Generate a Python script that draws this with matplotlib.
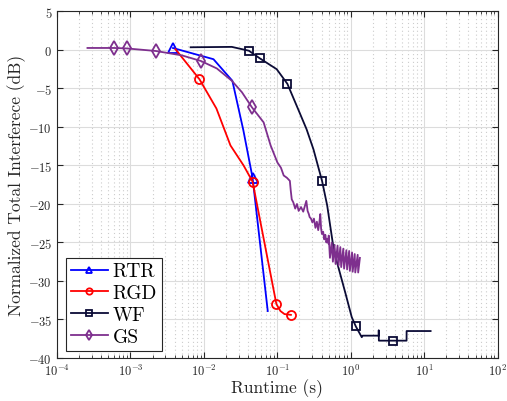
import numpy as np
import matplotlib.pyplot as plt
from matplotlib.ticker import LogLocator, NullFormatter, FixedLocator

plt.rcParams['font.family'] = 'serif'
plt.rcParams['font.serif'] = ['cmr10']
plt.rcParams['mathtext.fontset'] = 'cm'
plt.rcParams['axes.unicode_minus'] = False
plt.rcParams['axes.formatter.use_mathtext'] = True

# === DATA ===
rtr_t = [0.0038, 0.0135, 0.0244, 0.0344, 0.046, 0.074]
rtr_db = [0.25, -1.2, -4.0, -10.4, -16.6, -33.9]
rtr_mark = [0, 4]

rgd_t = [0.0041, 0.0087, 0.0148, 0.023, 0.0347, 0.046, 0.097, 0.11, 0.125, 0.153]
rgd_db = [0.1, -3.8, -7.6, -12.4, -15.0, -17.1, -33.0, -33.9, -34.3, -34.4]
rgd_mark = [1, 5, 6, 9]

wf_t = [0.0066, 0.024, 0.041, 0.0575, 0.098, 0.137, 0.192, 0.25, 0.31, 0.407,
        0.477, 0.575, 0.65, 0.84, 1.03, 1.17, 1.41, 1.45, 2.4, 2.4, 2.41,
        3.78, 5.74, 5.75, 12.2]
wf_db = [0.35, 0.4, -0.1, -1.08, -2.5, -4.4, -7.7, -10.3, -12.9, -17.05,
         -20.2, -25.4, -27.6, -31.5, -34.7, -35.9, -37.3, -37.1, -37.1, -36.4, -37.75,
         -37.75, -37.75, -36.5, -36.5]
wf_mark = [2, 3, 5, 9, 15, 21]

gs_t = [0.00026, 0.00059, 0.00089, 0.0022, 0.005, 0.0091, 0.015, 0.024, 0.033, 0.045,
        0.065, 0.081, 0.100, 0.112, 0.122, 0.135, 0.148, 0.152, 0.157, 0.165, 0.175,
        0.185, 0.195, 0.21, 0.225, 0.238, 0.248, 0.258, 0.268, 0.275, 0.287, 0.30,
        0.315, 0.33, 0.345, 0.36, 0.372, 0.384, 0.394, 0.404, 0.42, 0.435, 0.45,
        0.465, 0.48, 0.50,
        0.50, 0.52, 0.55, 0.57, 0.60, 0.62, 0.66, 0.68, 0.72, 0.74, 0.79, 0.81,
        0.87, 0.89, 0.95, 0.97, 1.04, 1.06, 1.13, 1.15, 1.24, 1.26, 1.33]
gs_db = [0.26, 0.26, 0.2, -0.13, -0.7, -1.43, -2.4, -4.0, -5.5, -7.44,
         -9.4, -12.4, -14.6, -15.3, -16.3, -16.6, -17.0, -18.2, -19.4, -19.8, -20.6,
         -20.0, -20.9, -20.4, -21.0, -20.2, -19.6, -20.9, -21.3, -21.7, -21.9, -22.4,
         -21.9, -23.1, -22.3, -23.4, -22.5, -21.3, -23.2, -23.9, -23.6, -24.6, -24.0,
         -25.0, -24.5, -25.2,
         -24.1, -27.0, -25.0, -27.5, -25.3, -27.8, -25.4, -28.0, -25.6, -28.2, -25.8, -28.4,
         -26.0, -28.5, -26.1, -28.7, -26.3, -28.8, -26.5, -28.9, -26.6, -28.9, -27.0]
gs_mark = [1, 2, 3, 5, 9]

# === PLOTTING ===
fig = plt.figure(figsize=(5.07, 4.02), dpi=100)
ax = fig.add_axes([0.1124, 0.107, 0.8693, 0.862])

lw = 1.3
ms = 6.5
ax.semilogx(rtr_t, rtr_db, color='#0000ff', lw=lw, marker='^', ms=ms, mfc='none',
            mew=1.3, markevery=rtr_mark, label='RTR')
ax.semilogx(rgd_t, rgd_db, color='#ff0000', lw=lw, marker='o', ms=ms, mfc='none',
            mew=1.3, markevery=rgd_mark, label='RGD')
ax.semilogx(wf_t, wf_db, color='#0b0b36', lw=lw, marker='s', ms=5.5, mfc='none',
            mew=1.3, markevery=wf_mark, label='WF')
ax.semilogx(gs_t, gs_db, color='#7e2f8e', lw=lw, marker='d', ms=ms + 1, mfc='none',
            mew=1.3, markevery=gs_mark, label='GS')

ax.set_xlim(1e-4, 1e2)
ax.set_ylim(-40, 5)
ax.yaxis.set_major_locator(FixedLocator(np.arange(-40, 6, 5)))
ax.xaxis.set_major_locator(LogLocator(base=10, numticks=10))
ax.xaxis.set_minor_locator(LogLocator(base=10, subs=np.arange(2, 10), numticks=20))
ax.xaxis.set_minor_formatter(NullFormatter())

ax.grid(True, which='major', color='#dcdcdc', lw=0.8, ls='-')
ax.grid(True, which='minor', axis='x', color='#cccccc', lw=0.8, ls=(0, (1, 2.5)))
ax.set_axisbelow(True)

ax.tick_params(which='both', direction='in', top=True, right=True, labelsize=9,
               colors='#262626')
ax.tick_params(which='major', length=4)
ax.tick_params(which='minor', length=2)
for s in ax.spines.values():
    s.set_color('#262626')
    s.set_linewidth(0.8)

ax.set_xlabel('Runtime (s)', fontsize=12.5, color='#262626')
ax.set_ylabel('Normalized Total Interferece (dB)', fontsize=12.5, color='#262626')
ax.xaxis.set_label_coords(0.5, -0.058)
ax.yaxis.set_label_coords(-0.07, 0.5)

leg = ax.legend(loc='lower left', bbox_to_anchor=(0.012, 0.01), fontsize=14,
                fancybox=False, framealpha=1, edgecolor='#262626',
                handlelength=1.9, handletextpad=0.25, borderpad=0.25, labelspacing=0.2,
                borderaxespad=0.2, markerscale=0.7)
leg.get_frame().set_linewidth(0.8)

plt.savefig('out.png', dpi=100)
